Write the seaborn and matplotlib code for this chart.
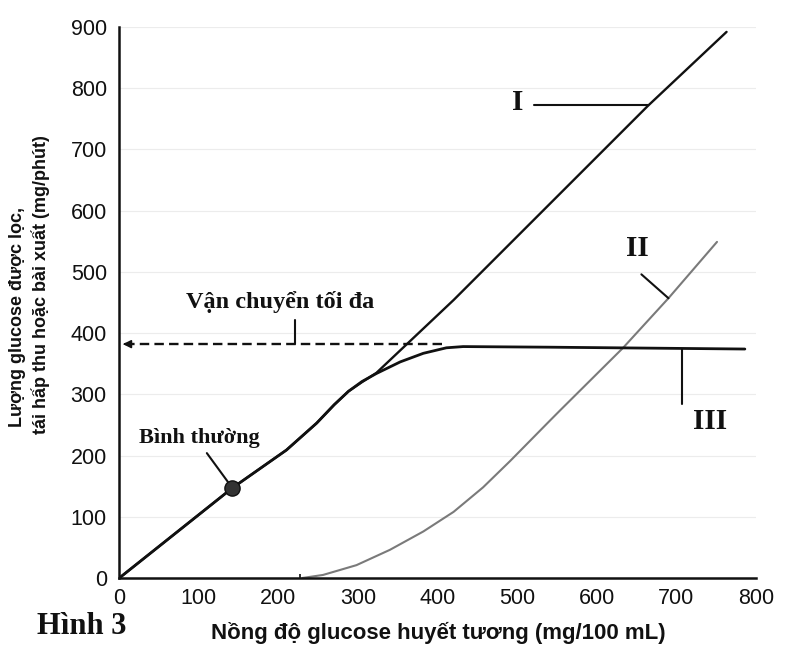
import matplotlib
matplotlib.use("Agg")
import matplotlib.pyplot as plt
import seaborn as sns
import pandas as pd

# ---------------- data ----------------
# Curve I: filtered load (mg/min) vs plasma glucose (mg/100 mL)
conc_I = [0, 142, 210, 248, 270, 288, 305, 323, 420, 664, 763]
load_I = [0, 147, 209, 253, 283, 305, 320, 335, 454, 771, 892]
# Curve II: excretion
conc_II = [230, 256, 298, 340, 382, 420, 457, 491, 516, 541, 554, 633, 690, 751]
excr_II = [0, 5, 21, 46, 76, 108, 148, 191, 224, 257, 274, 376, 457, 549]
# Curve III: reabsorption
conc_III = [0, 142, 210, 248, 270, 288, 305, 323, 353, 382, 411, 432, 541, 786]
reab_III = [0, 147, 209, 253, 283, 305, 321, 334, 353, 367, 376, 378, 377, 374]
# transport maximum level (dashed arrow)
tmax_value = 382
tmax_end_conc = 405
# renal threshold mark on the x axis
threshold_conc = [227]
# normal point
normal_conc = [142]
normal_val = [147]

x_ticks = [0, 100, 200, 300, 400, 500, 600, 700, 800]
y_ticks = [0, 100, 200, 300, 400, 500, 600, 700, 800, 900]

x_label = "Nồng độ glucose huyết tương (mg/100 mL)"
y_label_1 = "Lượng glucose được lọc,"
y_label_2 = "tái hấp thu hoặc bài xuất (mg/phút)"
fig_label = "Hình 3"
tmax_label = "Vận chuyển tối đa"
normal_label = "Bình thường"
curve_labels = ["I", "II", "III"]

# ---------------- style ----------------
sns.set_theme(style="white")
plt.rcParams["font.family"] = ["Liberation Sans", "DejaVu Sans"]
serif = ["Liberation Serif", "DejaVu Serif"]
ink = "#111111"

W, H = 786, 653
fig = plt.figure(figsize=(W / 100, H / 100), dpi=100)
x0, x1, y0, y1 = 119.3, 756, 578, 27
ax = fig.add_axes([x0 / W, (H - y0) / H, (x1 - x0) / W, (y0 - y1) / H])

df_I = pd.DataFrame({"x": conc_I, "y": load_I})
df_II = pd.DataFrame({"x": conc_II, "y": excr_II})
df_III = pd.DataFrame({"x": conc_III, "y": reab_III})

sns.lineplot(data=df_II, x="x", y="y", ax=ax, color="#7a7a7a", lw=1.5,
             sort=False, estimator=None)
sns.lineplot(data=df_I, x="x", y="y", ax=ax, color=ink, lw=1.7,
             sort=False, estimator=None)
sns.lineplot(data=df_III, x="x", y="y", ax=ax, color=ink, lw=2.0,
             sort=False, estimator=None)

# dashed transport-maximum arrow
ax.plot([tmax_end_conc, 4], [tmax_value, tmax_value], color=ink,
        lw=1.7, dashes=(4.0, 2.2))
ax.annotate("", xy=(1, tmax_value), xytext=(12, tmax_value),
            arrowprops=dict(arrowstyle="-|>", color=ink, lw=1.2,
                            mutation_scale=12))

# normal point
sns.scatterplot(x=normal_conc, y=normal_val, ax=ax, s=120, color="#333333",
                edgecolor=ink, linewidth=1, zorder=5)

# annotations
lk = dict(color=ink, lw=1.5)
ax.plot([221, 221], [421, tmax_value], **lk)
ax.text(202, 451, tmax_label, family=serif, weight="bold", fontsize=17.5,
        ha="center", va="center", color=ink)

ax.plot([521, 664], [772, 772], **lk)
ax.text(501, 776, curve_labels[0], family=serif, weight="bold", fontsize=21,
        ha="center", va="center", color=ink)
ax.plot([656, 690], [496, 457], **lk)
ax.text(651, 539, curve_labels[1], family=serif, weight="bold", fontsize=21,
        ha="center", va="center", color=ink)
ax.plot([707, 707], [374, 285], **lk)
ax.text(742, 255, curve_labels[2], family=serif, weight="bold", fontsize=21,
        ha="center", va="center", color=ink)

ax.plot([110, 137], [204, 156], **lk)
ax.text(100, 228, normal_label, family=serif, weight="bold", fontsize=16,
        ha="center", va="center", color=ink)

# axes
ax.set_xlim(0, 800)
ax.set_ylim(0, 900)
ax.set_xticks(x_ticks)
ax.set_xticks(threshold_conc, minor=True)
ax.set_yticks(y_ticks)
ax.set_xticklabels([str(v) for v in x_ticks], fontsize=15.5)
ax.set_yticklabels([str(v) for v in y_ticks], fontsize=15.5)
ax.tick_params(axis="x", which="major", direction="in", length=5, width=1.5,
               pad=7, colors=ink)
ax.tick_params(axis="x", which="minor", direction="in", length=3, width=1.2,
               colors=ink, bottom=True)
ax.tick_params(axis="y", length=0, pad=9, colors=ink)
for s in ["top", "right"]:
    ax.spines[s].set_visible(False)
for s in ["left", "bottom"]:
    ax.spines[s].set_linewidth(1.8)
    ax.spines[s].set_color(ink)
ax.grid(axis="y", color="#ececec", lw=0.8)
ax.set_axisbelow(True)
ax.set_xlabel("")
ax.set_ylabel("")

fig.text(438 / W, 1 - 633 / H, x_label, weight="bold", fontsize=16,
         ha="center", va="center", color=ink)
fig.text(18 / W, 1 - 317 / H, y_label_1, weight="bold", fontsize=13,
         rotation=90, ha="center", va="center", color=ink)
fig.text(41 / W, 1 - 285 / H, y_label_2, weight="bold", fontsize=13,
         rotation=90, ha="center", va="center", color=ink)
fig.text(82 / W, 1 - 627 / H, fig_label, family=serif, weight="bold",
         fontsize=22, ha="center", va="center", color=ink)

fig.savefig("out.png", dpi=100)
